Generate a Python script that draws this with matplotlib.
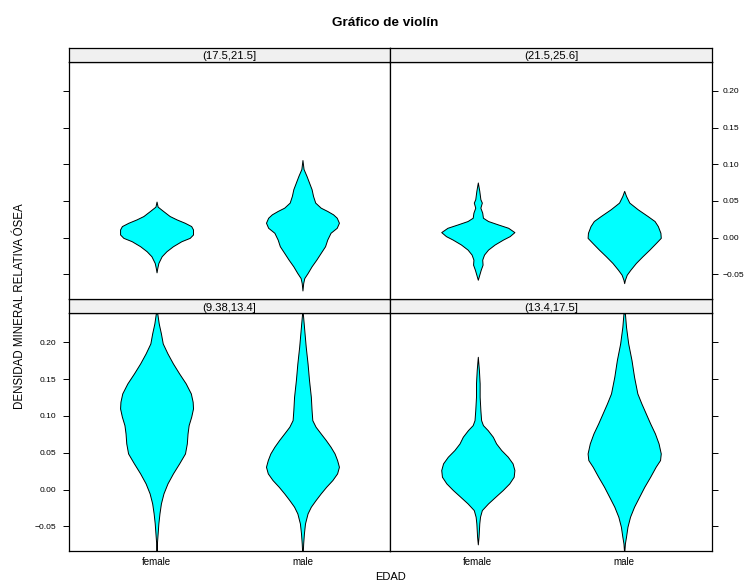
import numpy as np
import matplotlib
matplotlib.use("Agg")
import matplotlib.pyplot as plt

plt.rcParams["font.family"] = ["Liberation Sans", "DejaVu Sans"]

# Groups and panels
sexes = ["female", "male"]
age_bins = ["(9.38,13.4]", "(13.4,17.5]", "(17.5,21.5]", "(21.5,25.6]"]

y_ticks = [-0.05, 0.00, 0.05, 0.10, 0.15, 0.20]
y_limits = (-0.0835, 0.2400)

# Density profiles: response level and relative density (1 = widest point)
f_9_y = [0.2394, 0.2258, 0.2122, 0.1986, 0.1850, 0.1714, 0.1578, 0.1443, 0.1307,
         0.1193, 0.1103, 0.0990, 0.0876, 0.0763, 0.0627, 0.0491, 0.0356, 0.0220,
         0.0084, -0.0052, -0.0188, -0.0324, -0.0460, -0.0596, -0.0731, -0.0836]
f_9_d = [0.02, 0.06, 0.12, 0.17, 0.30, 0.45, 0.62, 0.80, 0.94,
         0.99, 1.00, 0.95, 0.88, 0.85, 0.83, 0.78, 0.62, 0.45,
         0.30, 0.19, 0.12, 0.08, 0.05, 0.03, 0.01, 0.005]

m_9_y = [0.2394, 0.2167, 0.1941, 0.1714, 0.1488, 0.1261, 0.1080, 0.0944, 0.0854,
         0.0763, 0.0673, 0.0582, 0.0491, 0.0401, 0.0310, 0.0220, 0.0129, 0.0038,
         -0.0052, -0.0143, -0.0233, -0.0324, -0.0460, -0.0596, -0.0731, -0.0836]
m_9_d = [0.01, 0.05, 0.09, 0.14, 0.18, 0.23, 0.25, 0.27, 0.36,
         0.50, 0.64, 0.77, 0.88, 0.95, 1.00, 0.95, 0.82, 0.65,
         0.50, 0.36, 0.23, 0.14, 0.07, 0.04, 0.02, 0.01]

f_13_y = [0.1805, 0.1624, 0.1443, 0.1261, 0.1080, 0.0944, 0.0876, 0.0808, 0.0718,
          0.0627, 0.0537, 0.0446, 0.0356, 0.0265, 0.0174, 0.0084, -0.0007, -0.0097,
          -0.0188, -0.0279, -0.0369, -0.0460, -0.0550, -0.0641, -0.0745]
f_13_d = [0.0, 0.03, 0.05, 0.05, 0.07, 0.09, 0.14, 0.27, 0.41,
          0.50, 0.64, 0.82, 0.95, 1.00, 0.98, 0.86, 0.68, 0.48,
          0.28, 0.11, 0.06, 0.04, 0.03, 0.02, 0.0]

m_13_y = [0.2394, 0.2212, 0.1986, 0.1760, 0.1533, 0.1307, 0.1171, 0.1035, 0.0899,
          0.0763, 0.0627, 0.0491, 0.0401, 0.0310, 0.0174, 0.0038, -0.0097, -0.0233,
          -0.0369, -0.0505, -0.0641, -0.0731, -0.0836]
m_13_d = [0.02, 0.05, 0.11, 0.20, 0.27, 0.36, 0.47, 0.59, 0.71,
          0.84, 0.94, 1.00, 0.98, 0.86, 0.71, 0.55, 0.41, 0.27,
          0.16, 0.09, 0.05, 0.02, 0.005]

f_17_y = [0.0492, 0.0423, 0.0364, 0.0295, 0.0249, 0.0204, 0.0158, 0.0112, 0.0044,
          -0.0002, -0.0048, -0.0116, -0.0185, -0.0253, -0.0344, -0.0413, -0.0472]
f_17_d = [0.0, 0.03, 0.18, 0.36, 0.55, 0.77, 0.95, 1.00, 1.00,
          0.91, 0.68, 0.45, 0.27, 0.14, 0.05, 0.02, 0.0]

m_17_y = [0.1058, 0.0935, 0.0843, 0.0752, 0.0661, 0.0569, 0.0478, 0.0409, 0.0364,
          0.0318, 0.0272, 0.0204, 0.0135, 0.0067, -0.0025, -0.0116, -0.0207, -0.0299,
          -0.0390, -0.0482, -0.0550, -0.0619, -0.0719]
m_17_d = [0.0, 0.03, 0.11, 0.18, 0.25, 0.29, 0.35, 0.50, 0.68,
          0.84, 0.94, 1.00, 0.94, 0.77, 0.68, 0.62, 0.50, 0.38,
          0.25, 0.14, 0.05, 0.02, 0.0]

f_21_y = [0.0752, 0.0638, 0.0524, 0.0478, 0.0409, 0.0341, 0.0272, 0.0227, 0.0181,
          0.0135, 0.0076, 0.0021, -0.0025, -0.0093, -0.0162, -0.0230, -0.0299, -0.0367,
          -0.0436, -0.0504, -0.0573]
f_21_d = [0.0, 0.04, 0.07, 0.11, 0.07, 0.12, 0.14, 0.28, 0.55,
          0.83, 1.00, 0.87, 0.69, 0.46, 0.28, 0.17, 0.12, 0.13,
          0.08, 0.04, 0.0]

m_21_y = [0.0638, 0.0569, 0.0478, 0.0387, 0.0295, 0.0227, 0.0158, 0.0067, -0.0002,
          -0.0070, -0.0162, -0.0253, -0.0344, -0.0436, -0.0504, -0.0573, -0.0619]
m_21_d = [0.0, 0.05, 0.14, 0.37, 0.64, 0.83, 0.92, 0.99, 1.00,
          0.87, 0.69, 0.50, 0.32, 0.17, 0.07, 0.02, 0.0]

profiles = {
    "(9.38,13.4]": [(f_9_y, f_9_d), (m_9_y, m_9_d)],
    "(13.4,17.5]": [(f_13_y, f_13_d), (m_13_y, m_13_d)],
    "(17.5,21.5]": [(f_17_y, f_17_d), (m_17_y, m_17_d)],
    "(21.5,25.6]": [(f_21_y, f_21_d), (m_21_y, m_21_d)],
}

W, H = 748, 582
fig = plt.figure(figsize=(W / 100, H / 100), dpi=100)


def frac_box(x0, y0, x1, y1):
    return [x0 / W, 1 - y1 / H, (x1 - x0) / W, (y1 - y0) / H]


panel_px = {
    "(9.38,13.4]": (69, 313, 390, 551),
    "(13.4,17.5]": (390, 313, 712, 551),
    "(17.5,21.5]": (69, 61.5, 390, 299),
    "(21.5,25.6]": (390, 61.5, 712, 299),
}
strip_h = 13.5
half_width = 0.25  # widest violin half-width in category units


def fmt(v):
    return f"{v:.2f}".replace("-", "\u2212")


for key, (x0, y0, x1, y1) in panel_px.items():
    ax = fig.add_axes(frac_box(x0, y0, x1, y1))
    for i, (yy, dd) in enumerate(profiles[key]):
        yy = np.asarray(yy)
        dd = np.asarray(dd) * half_width
        pos = i + 1
        ax.fill_betweenx(yy, pos - dd, pos + dd, facecolor="#00FFFF",
                         edgecolor="black", linewidth=0.7, zorder=2)
    ax.set_xlim(0.4, 2.6)
    ax.set_ylim(*y_limits)
    for s in ax.spines.values():
        s.set_linewidth(0.9)
        s.set_color("black")
    ax.set_yticks(y_ticks)
    bottom_row = y0 > 300
    left_col = x0 < 100
    ax.tick_params(axis="y", length=4.3, width=0.7, direction="out",
                   labelsize=6.1, pad=5 if left_col else 3.5, colors="black")
    ax.tick_params(axis="x", length=0, labelsize=7, pad=4.3)
    if bottom_row:
        ax.set_xticks([1, 2])
        ax.set_xticklabels(sexes)
    else:
        ax.set_xticks([])
    if left_col:
        ax.yaxis.set_ticks_position("left")
        ax.set_yticklabels([fmt(v) for v in y_ticks] if bottom_row else [])
    else:
        ax.yaxis.set_ticks_position("right")
        ax.set_yticklabels([fmt(v) for v in y_ticks] if not bottom_row else [])

    # strip above the panel
    sax = fig.add_axes(frac_box(x0, y0 - strip_h, x1, y0))
    sax.set_xticks([])
    sax.set_yticks([])
    sax.set_facecolor("#f0f0f0")
    for s in sax.spines.values():
        s.set_linewidth(0.9)
        s.set_color("black")
    sax.text((x0 + x1) / 2 / W, 1 - (y0 - 2.2) / H, key, ha="center",
             va="baseline", fontsize=8.1, transform=fig.transFigure)

fig.text(385 / W, 1 - 25.7 / H, "Gráfico de violín", ha="center",
         va="baseline", fontsize=9.7, fontweight="bold")
fig.text(391 / W, 1 - 579.5 / H, "EDAD", ha="center", va="baseline", fontsize=8)
fig.text(20 / W, 1 - 306 / H, "DENSIDAD MINERAL RELATIVA ÓSEA", ha="center",
         va="center", rotation=90, fontsize=8.3)

fig.savefig("out.png", dpi=100)
